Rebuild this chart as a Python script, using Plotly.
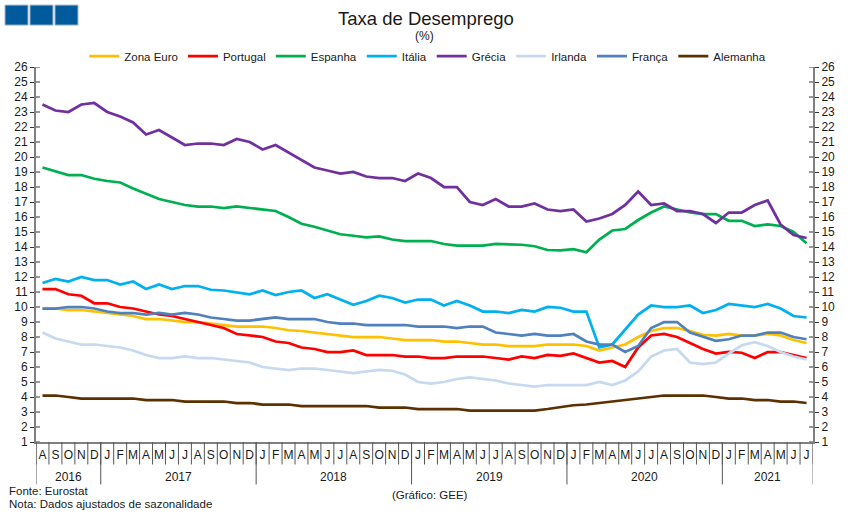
import plotly.graph_objects as go

months = ["A","S","O","N","D"] + ["J","F","M","A","M","J","J","A","S","O","N","D"]*4 + ["J","F","M","A","M","J","J"]
years = ["2016","2017","2018","2019","2020","2021"]
year_counts = [5,12,12,12,12,7]

zona_euro = [9.9,9.9,9.8,9.8,9.7,9.6,9.5,9.4,9.2,9.2,9.1,9.0,9.0,8.9,8.8,8.7,8.7,8.7,8.6,8.45,8.4,8.3,8.2,8.1,8.0,8.0,8.0,7.9,7.8,7.8,7.8,7.7,7.7,7.6,7.5,7.5,7.4,7.4,7.4,7.5,7.5,7.5,7.4,7.1,7.3,7.5,8.0,8.4,8.6,8.6,8.4,8.15,8.1,8.2,8.1,8.1,8.2,8.1,7.8,7.6]
portugal = [11.2,11.2,10.85,10.75,10.25,10.25,10.0,9.9,9.7,9.5,9.4,9.2,9.0,8.85,8.6,8.2,8.1,8.0,7.7,7.6,7.3,7.2,7.0,7.0,7.1,6.8,6.8,6.8,6.7,6.7,6.6,6.6,6.7,6.7,6.7,6.6,6.5,6.7,6.6,6.8,6.75,6.9,6.6,6.3,6.4,6.0,7.3,8.1,8.2,8.0,7.6,7.2,6.9,7.0,6.95,6.6,7.0,7.0,6.8,6.6]
espanha = [19.3,19.05,18.8,18.8,18.55,18.4,18.3,17.9,17.55,17.2,17.0,16.8,16.7,16.7,16.6,16.7,16.6,16.5,16.4,16.0,15.55,15.35,15.1,14.85,14.75,14.65,14.7,14.5,14.4,14.4,14.4,14.2,14.1,14.1,14.1,14.2,14.2,14.15,14.05,13.8,13.77,13.85,13.65,14.5,15.1,15.2,15.8,16.3,16.7,16.5,16.3,16.2,16.2,15.75,15.75,15.4,15.5,15.4,15.0,14.25]
italia = [11.6,11.87,11.7,12.0,11.8,11.8,11.5,11.7,11.2,11.5,11.2,11.4,11.4,11.15,11.1,11.0,10.85,11.1,10.8,11.0,11.1,10.6,10.85,10.5,10.15,10.4,10.75,10.6,10.3,10.5,10.5,10.1,10.4,10.1,9.7,9.7,9.6,9.8,9.7,10.0,9.95,9.7,9.7,7.3,7.5,8.5,9.5,10.1,10.0,10.0,10.1,9.6,9.8,10.2,10.1,10.0,10.2,9.9,9.4,9.3]
grecia = [23.5,23.1,23.0,23.5,23.6,23.0,22.7,22.3,21.5,21.8,21.3,20.8,20.9,20.9,20.8,21.2,21.0,20.5,20.8,20.3,19.8,19.3,19.1,18.9,19.0,18.7,18.6,18.6,18.4,18.9,18.6,18.0,18.0,17.0,16.8,17.2,16.7,16.7,16.9,16.5,16.4,16.5,15.7,15.9,16.2,16.8,17.7,16.8,16.9,16.4,16.4,16.2,15.6,16.3,16.3,16.8,17.1,15.5,14.8,14.6]
irlanda = [8.3,7.9,7.7,7.5,7.5,7.4,7.3,7.1,6.8,6.6,6.6,6.7,6.6,6.6,6.5,6.4,6.3,6.0,5.9,5.8,5.9,5.9,5.8,5.7,5.6,5.7,5.8,5.75,5.5,5.0,4.9,5.0,5.2,5.3,5.2,5.1,4.9,4.8,4.7,4.8,4.8,4.8,4.8,5.0,4.8,5.1,5.7,6.7,7.1,7.2,6.3,6.2,6.3,6.9,7.45,7.65,7.4,7.0,6.7,6.5]
franca = [9.9,9.9,10.0,10.0,9.9,9.7,9.6,9.6,9.5,9.6,9.5,9.6,9.5,9.3,9.2,9.1,9.1,9.2,9.3,9.2,9.2,9.2,9.0,8.9,8.9,8.8,8.8,8.8,8.8,8.7,8.7,8.7,8.6,8.7,8.7,8.3,8.2,8.1,8.2,8.1,8.1,8.2,7.7,7.5,7.5,7.0,7.4,8.6,9.0,9.0,8.3,8.0,7.75,7.85,8.1,8.1,8.3,8.3,8.0,7.85]
alemanha = [4.1,4.1,4.0,3.9,3.9,3.9,3.9,3.9,3.8,3.8,3.8,3.7,3.7,3.7,3.7,3.6,3.6,3.5,3.5,3.5,3.4,3.4,3.4,3.4,3.4,3.4,3.3,3.3,3.3,3.2,3.2,3.2,3.2,3.1,3.1,3.1,3.1,3.1,3.1,3.2,3.35,3.45,3.5,3.6,3.7,3.8,3.9,4.0,4.1,4.1,4.1,4.1,4.0,3.9,3.9,3.8,3.8,3.7,3.7,3.6]

series = [("Zona Euro",zona_euro,"#FFC000"),("Portugal",portugal,"#FF0000"),("Espanha",espanha,"#00B050"),
          ("Itália",italia,"#00B0F0"),("Grécia",grecia,"#7030A0"),("Irlanda",irlanda,"#C6D9F1"),
          ("França",franca,"#4F81BD"),("Alemanha",alemanha,"#5C3000")]

W,H = 851,520
L,R,T,B = 36,813.5,67,442.5
px = lambda x:(x-L)/(R-L)
py = lambda y:(B-y)/(B-T)
FONT = "Liberation Sans"
TXT = "#1a1a1a"
x = list(range(len(months)))
yticks = list(range(1,27))

fig = go.Figure()
for i,(name,vals,col) in enumerate(series):
    fig.add_trace(go.Scatter(x=x,y=vals,name=name,mode="lines",line=dict(color=col,width=2.75),
                             yaxis="y2" if name=="Alemanha" else "y"))

shapes=[]
for i in range(len(months)+1):
    shapes.append(dict(type="line",xref="x",yref="paper",x0=i-0.5,x1=i-0.5,y0=py(B),y1=py(465),
                       line=dict(color="#555555",width=1)))
pos=0
annotations=[]
for yr,c in zip(years,year_counts):
    shapes.append(dict(type="line",xref="x",yref="paper",x0=pos-0.5,x1=pos-0.5,y0=py(B),y1=py(485),
                       line=dict(color="#555555",width=1)))
    annotations.append(dict(x=pos-0.5+c/2,xref="x",y=py(477.5),yref="paper",text=yr,showarrow=False,
                            xanchor="center",yanchor="middle",font=dict(size=12,color=TXT)))
    pos+=c
shapes.append(dict(type="line",xref="x",yref="paper",x0=pos-0.5,x1=pos-0.5,y0=py(B),y1=py(485),
                   line=dict(color="#808080",width=1)))
for v in yticks:
    shapes.append(dict(type="line",xref="paper",yref="y",x0=0,x1=px(L+4),y0=v,y1=v,line=dict(color="#333333",width=1)))
    shapes.append(dict(type="line",xref="paper",yref="y",x0=1,x1=px(R-4),y0=v,y1=v,line=dict(color="#333333",width=1)))
for a in (5,30,55):
    shapes.append(dict(type="rect",xref="paper",yref="paper",x0=px(a),x1=px(a+23),y0=py(25),y1=py(5),
                       fillcolor="#005A9C",line=dict(color="#9DB4C8",width=1)))

def text(xp,yp,s,size,anchor="left"):
    annotations.append(dict(x=px(xp),y=py(yp),xref="paper",yref="paper",text=s,showarrow=False,
                            xanchor=anchor,yanchor="middle",font=dict(size=size,color=TXT)))
text(426,18,"Taxa de Desemprego",18.5,"center")
text(425,36,"(%)",12,"center")
text(7,492,"Fonte: Eurostat",11.5)
text(7,505,"Nota: Dados ajustados de sazonalidade",11.5)
text(430,496,"(Gráfico: GEE)",11.5,"center")

axis_y = dict(range=[1,26],tickmode="array",tickvals=yticks,ticks="outside",ticklen=4,tickcolor="#333333",tickwidth=1,
              showgrid=False,zeroline=False,showline=True,linecolor="#808080",linewidth=2,
              tickfont=dict(size=12,color=TXT))
fig.update_layout(
    width=W,height=H,autosize=False,
    margin=dict(l=L,r=W-R,t=T,b=H-B,pad=0),
    paper_bgcolor="white",plot_bgcolor="white",
    font=dict(family=FONT,size=12,color=TXT),
    showlegend=True,
    legend=dict(orientation="h",x=px(428),xanchor="center",y=py(56),yanchor="middle",
                font=dict(size=11.5,color=TXT),bgcolor="rgba(0,0,0,0)",itemclick=False,itemdoubleclick=False,
                traceorder="normal",tracegroupgap=0),
    xaxis=dict(range=[-0.5,len(months)-0.5],tickmode="array",tickvals=x,ticktext=months,ticks="",
               showgrid=False,zeroline=False,showline=True,linecolor="#808080",linewidth=2,
               tickangle=0,tickfont=dict(size=12,color=TXT),ticklabelstandoff=1),
    yaxis=dict(side="left",**axis_y),
    yaxis2=dict(side="right",overlaying="y",**axis_y),
    shapes=shapes,annotations=annotations,
)
fig.write_html("out.html",config=dict(displayModeBar=False),post_script="document.body.style.margin='0';")
